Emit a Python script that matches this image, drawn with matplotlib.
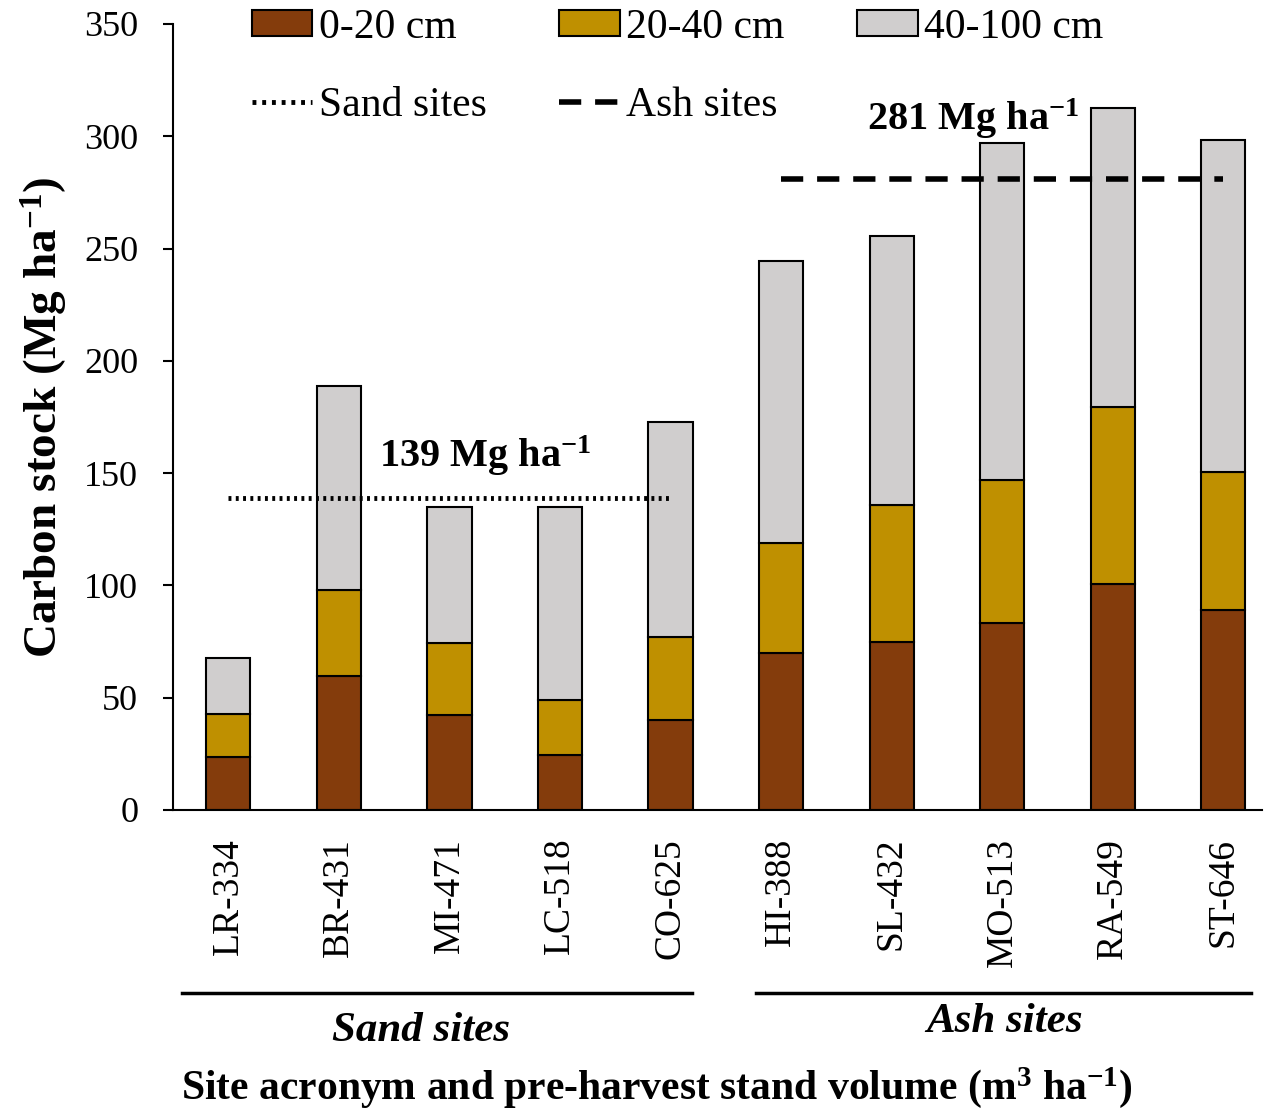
import numpy as np
import matplotlib.pyplot as plt
from matplotlib.patches import Patch
from matplotlib.lines import Line2D

plt.rcParams['font.family'] = ['Liberation Serif', 'DejaVu Serif']
plt.rcParams['mathtext.default'] = 'regular'

sites = ['LR-334', 'BR-431', 'MI-471', 'LC-518', 'CO-625',
         'HI-388', 'SL-432', 'MO-513', 'RA-549', 'ST-646']
# layer totals (Mg ha-1)
c0_20 = [23.6, 59.7, 42.3, 24.5, 40.0, 69.9, 74.8, 83.3, 100.6, 89.0]
c20_40 = [19.1, 38.3, 32.1, 24.5, 37.0, 49.0, 61.0, 63.6, 78.8, 61.5]
c40_100 = [25.0, 90.8, 60.5, 85.9, 95.7, 125.5, 119.8, 150.1, 133.2, 147.8]
sand_mean = 139
ash_mean = 281

col0 = '#843C0C'
col1 = '#BF9000'
col2 = '#D0CECE'

fig = plt.figure(figsize=(12.67, 11.13), dpi=100)
ax = fig.add_axes([173/1267, 1-810/1113, (1262-173)/1267, (810-24)/1113])

x = np.arange(len(sites))
w = 0.4
c0 = np.array(c0_20)
c1 = np.array(c20_40)
c2 = np.array(c40_100)
ax.bar(x, c0, w, color=col0, edgecolor='black', linewidth=1.5, zorder=2)
ax.bar(x, c1, w, bottom=c0, color=col1, edgecolor='black', linewidth=1.5, zorder=2)
ax.bar(x, c2, w, bottom=c0+c1, color=col2, edgecolor='black', linewidth=1.5, zorder=2)

dotted = (0, (0.6, 0.9))
dashed = (0, (4, 2.5))
ax.plot([x[0], x[4]], [sand_mean, sand_mean], color='black', lw=3.5,
        linestyle=dotted, zorder=3)
ax.plot([x[5], x[9]], [ash_mean, ash_mean], color='black', lw=4,
        linestyle=dashed, zorder=3)

ax.text(1.36, 148, '139 Mg ha$^{-1}$', fontsize=29, fontweight='bold', va='bottom')
ax.text(5.78, 298, '281 Mg ha$^{-1}$', fontsize=29, fontweight='bold', va='bottom')

ax.set_xlim(-0.5, 9.35)
ax.set_ylim(0, 350)
ax.set_yticks(np.arange(0, 351, 50))
ax.set_xticks(x)
ax.set_xticklabels(sites, rotation=90, fontsize=27)
ax.tick_params(axis='x', length=0, pad=20)
ax.tick_params(axis='y', direction='out', length=7, width=1.5, pad=18, labelsize=26)
for s in ['top', 'right']:
    ax.spines[s].set_visible(False)
for s in ['left', 'bottom']:
    ax.spines[s].set_linewidth(1.5)

ax.set_ylabel('Carbon stock (Mg ha$^{-1}$)', fontsize=34, fontweight='bold', labelpad=10)

handles = [Patch(facecolor=col0, edgecolor='black', linewidth=1.5, label='0-20 cm'),
           Line2D([], [], color='black', lw=3.5, linestyle=(0, (0.8, 1.2)), label='Sand sites'),
           Patch(facecolor=col1, edgecolor='black', linewidth=1.5, label='20-40 cm'),
           Line2D([], [], color='black', lw=4, linestyle=dashed, label='Ash sites'),
           Patch(facecolor=col2, edgecolor='black', linewidth=1.5, label='40-100 cm')]
ax.legend(handles=handles, ncol=3, loc='upper left', bbox_to_anchor=(0.0725, 1.02),
          frameon=False, fontsize=30, handlelength=1.45, handleheight=0.55,
          handletextpad=0.15, columnspacing=1.75, labelspacing=0.95,
          borderaxespad=0, borderpad=0)

trans = ax.get_xaxis_transform()
ax.plot([-0.416, 4.195], [-0.233, -0.233], color='black', lw=2.5, transform=trans, clip_on=False)
ax.plot([4.774, 9.25], [-0.233, -0.233], color='black', lw=2.5, transform=trans, clip_on=False)
ax.text(1.745, -0.281, 'Sand sites', transform=trans, fontsize=31, fontweight='bold',
        style='italic', ha='center', va='center')
ax.text(7.02, -0.27, 'Ash sites', transform=trans, fontsize=31, fontweight='bold',
        style='italic', ha='center', va='center')

fig.text(657/1267, 1-1088/1113, 'Site acronym and pre-harvest stand volume (m$^{3}$ ha$^{-1}$)',
         fontsize=30, fontweight='bold', ha='center', va='center')

fig.savefig('out.png', dpi=100)
